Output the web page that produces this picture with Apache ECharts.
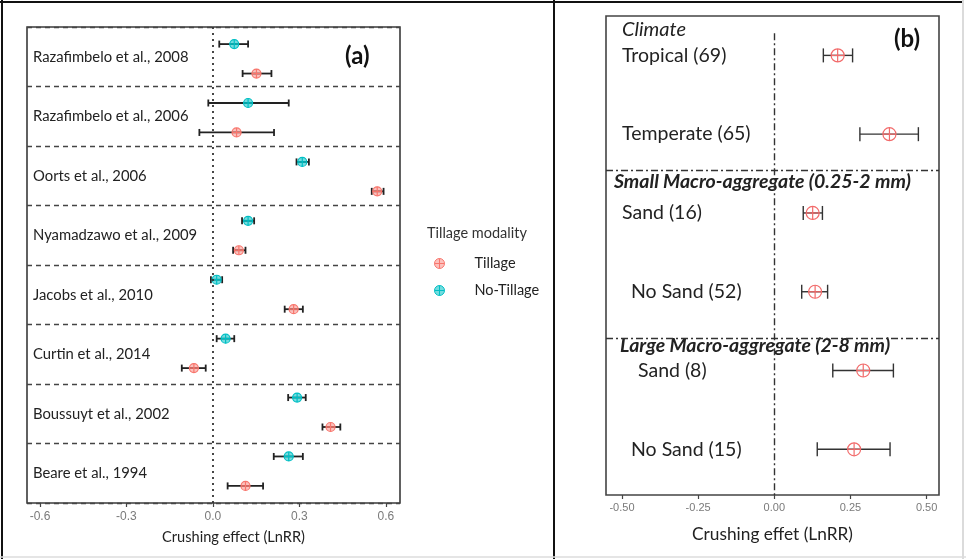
<!DOCTYPE html>
<html style="height: 100%">
<head>
 <meta charset="utf-8">
 <title>Crushing effect</title>
 <script src="https://cdn.jsdelivr.net/npm/echarts@6/dist/echarts.min.js"></script>
</head>
<body style="height: 100%; margin: 0; background: #fff">
 <div id="main" style="width: 966px; height: 559px"></div>
 <script type="text/javascript">
 // panel (a): studies, top to bottom
 var studies = ['Razafimbelo et al., 2008', 'Razafimbelo et al., 2006', 'Oorts et al., 2006',
   'Nyamadzawo et al., 2009', 'Jacobs et al., 2010', 'Curtin et al., 2014',
   'Boussuyt et al., 2002', 'Beare et al., 1994'];
 var noTillMean = [0.074, 0.122, 0.310, 0.122, 0.013, 0.044, 0.292, 0.263];
 var noTillLow = [0.022, -0.016, 0.290, 0.101, -0.007, 0.013, 0.261, 0.211];
 var noTillHigh = [0.122, 0.263, 0.333, 0.143, 0.032, 0.074, 0.322, 0.312];
 var tillMean = [0.151, 0.082, 0.570, 0.090, 0.280, -0.066, 0.408, 0.113];
 var tillLow = [0.103, -0.047, 0.551, 0.070, 0.249, -0.108, 0.380, 0.051];
 var tillHigh = [0.203, 0.212, 0.592, 0.113, 0.312, -0.025, 0.442, 0.174];
 var ticksA = [-0.6, -0.3, 0, 0.3, 0.6];

 // panel (b): subgroups
 var groups = ['Tropical (69)', 'Temperate (65)', 'Sand (16)', 'No Sand (52)', 'Sand (8)', 'No Sand (15)'];
 var effMean = [0.208, 0.378, 0.126, 0.134, 0.292, 0.262];
 var effLow = [0.161, 0.281, 0.095, 0.090, 0.192, 0.141];
 var effHigh = [0.257, 0.473, 0.158, 0.175, 0.391, 0.380];
 var headings = ['Climate', 'Small Macro-aggregate (0.25-2 mm)', 'Large Macro-aggregate (2-8 mm)'];
 var ticksB = [-0.5, -0.25, 0, 0.25, 0.5];

 var RED = '#F8766D', CYAN = '#00BFC4';
 var FONT = 'Lato';

 function errRender(o) {
   return function (params, api) {
     var y = api.value(3);
     var a = api.coord([api.value(0), y]);
     var b = api.coord([api.value(1), y]);
     var m = api.coord([api.value(2), y]);
     var ls = { stroke: o.bar, lineWidth: o.lw };
     var ms = { stroke: o.stroke, lineWidth: 1.2, fill: 'none' };
     return {
       type: 'group',
       children: [
         { type: 'line', shape: { x1: a[0], y1: a[1], x2: b[0], y2: b[1] }, style: ls },
         { type: 'line', shape: { x1: a[0], y1: a[1] - o.cap, x2: a[0], y2: a[1] + o.cap }, style: ls },
         { type: 'line', shape: { x1: b[0], y1: b[1] - o.cap, x2: b[0], y2: b[1] + o.cap }, style: ls },
         { type: 'circle', shape: { cx: m[0], cy: m[1], r: o.r }, style: { fill: o.fill, stroke: o.stroke, lineWidth: 1.2 } },
         { type: 'line', shape: { x1: m[0] - o.r, y1: m[1], x2: m[0] + o.r, y2: m[1] }, style: ms },
         { type: 'line', shape: { x1: m[0], y1: m[1] - o.r, x2: m[0], y2: m[1] + o.r }, style: ms }
       ]
     };
   };
 }

 // indentation (px) of some subgroup labels in panel (b)
 var labelIndent = { 'No Sand (52)': 9, 'Sand (8)': 16, 'No Sand (15)': 9 };
 var headingSlot = [0.67, 2.6, 4.69];
 var headingIndent = [0, -8, -2];

 var markerIcon = 'path://M10,5A5,5,0,1,1,0,5A5,5,0,1,1,10,5ZM5,0L5,10M0,5L10,5';

 var myChart = echarts.init(document.getElementById('main'));

 var option = {
   animation: false,
   textStyle: { fontFamily: FONT },
   title: [
     { text: '(a)', left: 340, top: 39, textStyle: { fontSize: 24, fontWeight: 'bold', color: '#111', fontFamily: FONT } },
     { text: '(b)', left: 889, top: 22, textStyle: { fontSize: 24, fontWeight: 'bold', color: '#111', fontFamily: FONT } },
     { text: 'Tillage modality', left: 422, top: 221, textStyle: { fontSize: 14.5, fontWeight: 'normal', color: '#333', fontFamily: FONT } }
   ],
   legend: {
     orient: 'vertical',
     left: 429,
     top: 251,
     itemWidth: 10,
     itemHeight: 10,
     itemGap: 12,
     textStyle: { fontSize: 14.5, color: '#222', lineHeight: 14, padding: [0, 0, 0, 25], fontFamily: FONT },
     data: [
       { name: 'Tillage', icon: markerIcon, itemStyle: { color: 'rgba(248,118,109,0.45)', borderColor: RED, borderWidth: 1 } },
       { name: 'No-Tillage', icon: markerIcon, itemStyle: { color: 'rgba(0,191,196,0.55)', borderColor: CYAN, borderWidth: 1 } }
     ]
   },
   grid: [
     { left: 27, top: 27, width: 373, height: 476, show: true, borderColor: '#3a3a3a', borderWidth: 1.6, backgroundColor: '#fff' },
     { left: 606, top: 16, width: 333, height: 479, show: true, borderColor: '#444', borderWidth: 1.6, backgroundColor: '#fff' }
   ],
   xAxis: [
     {
       gridIndex: 0, type: 'value', min: -0.645, max: 0.649,
       splitLine: { show: false }, axisLine: { show: false, onZero: false },
       axisTick: { show: true, length: 4, customValues: ticksA, lineStyle: { color: '#444', width: 1.2 } },
       axisLabel: { customValues: ticksA, color: '#7a7a7a', fontSize: 12, fontFamily: 'Liberation Sans', margin: 8,
         formatter: function (v) { return v.toFixed(1); } },
       name: 'Crushing effect (LnRR)', nameLocation: 'middle', nameGap: 27,
       nameTextStyle: { fontSize: 14.6, color: '#222', padding: [0, 0, 0, 40], fontFamily: FONT }
     },
     {
       gridIndex: 1, type: 'value', min: -0.5525, max: 0.5407,
       splitLine: { show: false }, axisLine: { show: false, onZero: false },
       axisTick: { show: true, length: 4, customValues: ticksB, lineStyle: { color: '#444', width: 1.2 } },
       axisLabel: { customValues: ticksB, color: '#7a7a7a', fontSize: 11, fontFamily: 'Liberation Sans', margin: 7,
         formatter: function (v) { return v.toFixed(2); } },
       name: 'Crushing effet (LnRR)', nameLocation: 'middle', nameGap: 31,
       nameTextStyle: { fontSize: 17.3, color: '#222', fontFamily: FONT }
     }
   ],
   yAxis: [
     {
       gridIndex: 0, type: 'category', data: studies, inverse: true,
       axisLine: { show: false }, axisTick: { show: false },
       axisLabel: { inside: true, margin: 6, fontSize: 14.8, color: '#222', fontFamily: FONT },
       splitLine: { show: true, lineStyle: { type: [5, 4], color: '#444', width: 1.3 } }
     },
     { gridIndex: 0, type: 'value', min: -0.58, max: 15.58, inverse: true, show: false },
     { gridIndex: 1, type: 'value', min: 0.5, max: 6.58, inverse: true, show: false }
   ],
   series: [
     {
       name: 'Tillage', type: 'custom', xAxisIndex: 0, yAxisIndex: 1,
       itemStyle: { color: RED },
       renderItem: errRender({ bar: '#222', lw: 1.8, cap: 3.5, r: 4.5, fill: 'rgba(248,118,109,0.45)', stroke: RED }),
       encode: { x: [0, 1, 2], y: 3 },
       data: studies.map(function (s, i) { return [tillLow[i], tillHigh[i], tillMean[i], 2 * i + 1]; }),
       markLine: {
         silent: true, symbol: 'none', label: { show: false },
         lineStyle: { type: [2, 4], color: '#333', width: 1.8 },
         data: [{ xAxis: 0 }]
       },
       z: 3
     },
     {
       name: 'No-Tillage', type: 'custom', xAxisIndex: 0, yAxisIndex: 1,
       itemStyle: { color: CYAN },
       renderItem: errRender({ bar: '#222', lw: 1.8, cap: 3.5, r: 4.5, fill: 'rgba(0,191,196,0.55)', stroke: CYAN }),
       encode: { x: [0, 1, 2], y: 3 },
       data: studies.map(function (s, i) { return [noTillLow[i], noTillHigh[i], noTillMean[i], 2 * i]; }),
       z: 3
     },
     {
       name: 'Overall', type: 'custom', xAxisIndex: 1, yAxisIndex: 2,
       itemStyle: { color: RED },
       renderItem: errRender({ bar: '#333', lw: 1.4, cap: 7, r: 6.5, fill: 'rgba(255,255,255,0)', stroke: '#f26b6b' }),
       encode: { x: [0, 1, 2], y: 3 },
       data: groups.map(function (g, i) { return [effLow[i], effHigh[i], effMean[i], i + 1]; }),
       markLine: {
         silent: true, symbol: 'none', label: { show: false },
         lineStyle: { type: [7, 3, 2, 3], color: '#333', width: 1.4 },
         data: [
           [{ coord: [0, 0.72] }, { coord: [0, 6.58] }],
           { yAxis: 2.46 },
           { yAxis: 4.59 }
         ]
       },
       z: 3
     },
     {
       name: 'Subgroups', type: 'custom', xAxisIndex: 1, yAxisIndex: 2, silent: true,
       renderItem: function (params, api) {
         var p = api.coord([ticksB[0], api.value(0)]);
         var txt = groups[params.dataIndex];
         return {
           type: 'text',
           style: { text: txt, x: p[0] + (labelIndent[txt] || 0), y: p[1], verticalAlign: 'middle', align: 'left',
             font: '19.5px ' + FONT, fill: '#222' }
         };
       },
       encode: { y: 0 },
       data: groups.map(function (g, i) { return [i + 1]; }),
       z: 4
     },
     {
       name: 'Headings', type: 'custom', xAxisIndex: 1, yAxisIndex: 2, silent: true,
       renderItem: function (params, api) {
         var i = params.dataIndex;
         var p = api.coord([ticksB[0], api.value(0)]);
         return {
           type: 'text',
           style: { text: headings[i], x: p[0] + headingIndent[i], y: p[1], verticalAlign: 'middle', align: 'left',
             font: (i === 0 ? 'italic 20px ' : 'italic bold 19.5px ') + FONT, fill: '#222' }
         };
       },
       encode: { y: 0 },
       data: headings.map(function (h, i) { return [headingSlot[i]]; }),
       z: 4
     }
   ],
   graphic: [
     { type: 'line', shape: { x1: 0, y1: 2, x2: 962, y2: 2 }, style: { stroke: '#111', lineWidth: 2 }, z: 10 },
     { type: 'line', shape: { x1: 2, y1: 0, x2: 2, y2: 559 }, style: { stroke: '#111', lineWidth: 2 }, z: 10 },
     { type: 'line', shape: { x1: 554, y1: 0, x2: 554, y2: 559 }, style: { stroke: '#111', lineWidth: 2 }, z: 10 },
     { type: 'line', shape: { x1: 963, y1: 0, x2: 963, y2: 559 }, style: { stroke: '#cfcfcf', lineWidth: 1.5 }, z: 10 },
     { type: 'line', shape: { x1: 0, y1: 557, x2: 966, y2: 557 }, style: { stroke: '#dcdcdc', lineWidth: 1.5 }, z: 10 }
   ]
 };

 myChart.setOption(option);
 </script>
</body>
</html>
